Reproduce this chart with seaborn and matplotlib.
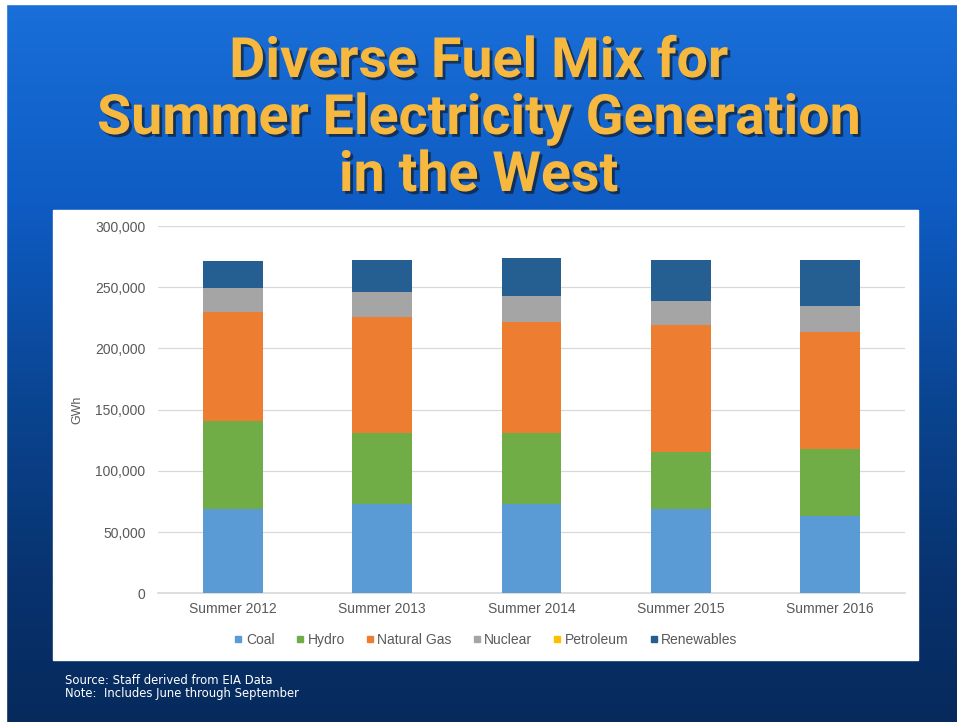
import numpy as np
import pandas as pd
import matplotlib
matplotlib.use('Agg')
import matplotlib.pyplot as plt
import matplotlib.patheffects as pe
from matplotlib.colors import LinearSegmentedColormap
from matplotlib.lines import Line2D
from matplotlib.patches import Rectangle
from matplotlib.ticker import FuncFormatter
import seaborn as sns

# ── Data (GWh) ───────────────────────────────────────
seasons = ['Summer 2012', 'Summer 2013', 'Summer 2014', 'Summer 2015', 'Summer 2016']
coal = [69100, 73200, 73200, 68900, 63400]
hydro = [71300, 58000, 58000, 46400, 54100]
natural_gas = [89100, 94700, 90600, 103800, 95600]
nuclear = [19700, 20000, 20800, 19900, 21300]
petroleum = [100, 100, 100, 100, 100]
renewables = [22500, 26600, 31100, 33300, 37900]

fuels = ['Coal', 'Hydro', 'Natural Gas', 'Nuclear', 'Petroleum', 'Renewables']
colors = ['#5b9bd5', '#70ad47', '#ed7d31', '#a5a5a5', '#ffc000', '#255e91']

df = pd.DataFrame({'Season': seasons, 'Coal': coal, 'Hydro': hydro,
                   'Natural Gas': natural_gas, 'Nuclear': nuclear,
                   'Petroleum': petroleum, 'Renewables': renewables})
cum = df[fuels].cumsum(axis=1)
cum['Season'] = seasons

sns.set_theme(style='white')
plt.rcParams['font.family'] = ['Liberation Sans', 'DejaVu Sans']

fig = plt.figure(figsize=(9.57, 7.22), dpi=100)

# ── Slide background: blue gradient ──────────────────
bg = fig.add_axes([0, 0, 1, 1], zorder=-10)
cmap = LinearSegmentedColormap.from_list('slide', [
    (0.0, '#1a6fd8'), (0.28, '#0e5cc4'), (0.55, '#0a4592'),
    (0.8, '#08336f'), (1.0, '#062a5c')])
grad = np.linspace(0, 1, 256).reshape(-1, 1)
bg.imshow(grad, aspect='auto', cmap=cmap, extent=[0, 1, 1, 0])
bg.set_xlim(0, 1)
bg.set_ylim(1, 0)
bg.axis('off')
# thin white slide border top/left
fig.patches.append(Rectangle((0, 1 - 4 / 722), 1, 4 / 722, transform=fig.transFigure,
                             color='white', zorder=-5))
fig.patches.append(Rectangle((0, 0), 6 / 957, 1, transform=fig.transFigure,
                             color='white', zorder=-5))

# white chart panel
fig.patches.append(Rectangle((53 / 957, 1 - 660 / 722), (918 - 53) / 957, (660 - 210) / 722,
                             transform=fig.transFigure, color='white', zorder=-1))

# ── Title ────────────────────────────────────────────
title_lines = ['Diverse Fuel Mix for', 'Summer Electricity Generation', 'in the West']
for line, ypx in zip(title_lines, [77, 134, 191]):
    fig.text(0.5, 1 - ypx / 722, line, ha='center', va='baseline',
             fontsize=40, fontweight='bold', family=['Roboto', 'DejaVu Sans'],
             color='#f6b83f',
             path_effects=[pe.withSimplePatchShadow(offset=(2, -2),
                                                    shadow_rgbFace='#111111', alpha=0.6)])

# ── Stacked bar chart ────────────────────────────────
ax = fig.add_axes([158 / 957, 1 - 593.3 / 722, (905 - 158) / 957, (593.3 - 226) / 722])
ax.set_facecolor('white')
for fuel, col in reversed(list(zip(fuels, colors))):
    sns.barplot(data=cum, x='Season', y=fuel, color=col, width=0.4,
                saturation=1, linewidth=0, ax=ax, zorder=3)

ax.set_xlim(-0.5, 4.5)
ax.set_ylim(0, 300000)
ax.set_yticks(np.arange(0, 300001, 50000))
ax.yaxis.set_major_formatter(FuncFormatter(lambda v, p: f'{int(v):,}'))
ax.grid(axis='y', color='#d9d9d9', linewidth=0.9, zorder=0)
for s in ax.spines.values():
    s.set_visible(False)
ax.spines['bottom'].set_visible(True)
ax.spines['bottom'].set_color('#d9d9d9')
ax.tick_params(axis='both', length=0, labelsize=10, labelcolor='#595959')
ax.tick_params(axis='y', pad=9)
ax.tick_params(axis='x', pad=6)
ax.set_xlabel('')
ax.set_ylabel('')
fig.text(77 / 957, 1 - 410 / 722, 'GWh', rotation=90, ha='center', va='center',
         fontsize=9, color='#595959')

handles = [Line2D([0], [0], marker='s', linestyle='', markersize=5,
                  markerfacecolor=c, markeredgecolor=c) for c in colors]
fig.legend(handles, fuels, loc='center', bbox_to_anchor=(486 / 957, 1 - 640 / 722),
           ncol=6, frameon=False, fontsize=10, labelcolor='#595959',
           handlelength=0.6, handletextpad=0.25, columnspacing=1.5)

# ── Source note ──────────────────────────────────────
fig.text(65 / 957, 1 - 681 / 722, 'Source: Staff derived from EIA Data',
         fontsize=8.4, color='white', va='center', ha='left', family='DejaVu Sans')
fig.text(65 / 957, 1 - 694 / 722, 'Note:  Includes June through September',
         fontsize=8.4, color='white', va='center', ha='left', family='DejaVu Sans')

fig.savefig('out.png', dpi=100)
